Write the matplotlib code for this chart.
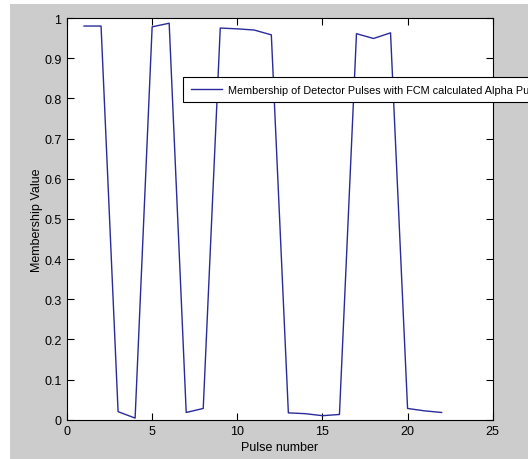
import matplotlib
matplotlib.use("Agg")
import matplotlib.pyplot as plt
from matplotlib.patches import Rectangle

plt.rcParams['font.family'] = ['Liberation Sans', 'DejaVu Sans']

# Pulse numbers and membership values
pulses = list(range(1, 23))
membership = [0.980, 0.980, 0.020, 0.004, 0.978, 0.987, 0.018, 0.028,
              0.975, 0.973, 0.970, 0.958, 0.017, 0.015, 0.010, 0.013,
              0.961, 0.949, 0.963, 0.028, 0.022, 0.018]
xticks = [0, 5, 10, 15, 20, 25]
yticks = [0, 0.1, 0.2, 0.3, 0.4, 0.5, 0.6, 0.7, 0.8, 0.9, 1]
yticklabels = ['0', '0.1', '0.2', '0.3', '0.4', '0.5', '0.6', '0.7', '0.8', '0.9', '1']

W, H = 528, 460
fig = plt.figure(figsize=(W / 100, H / 100), dpi=100, facecolor='white')
# grey MATLAB window background, with a thin white strip at top/left
fig.patches.append(Rectangle((10 / W, 0), 1 - 10 / W, 1 - 5 / H,
                             transform=fig.transFigure, facecolor='#cccccc',
                             edgecolor='none', zorder=-10))

ax = fig.add_axes([67 / W, 1 - 420.7 / H, 425.7 / W, 401.7 / H])
ax.set_facecolor('white')
ax.plot(pulses, membership, color='#2a2a9c', lw=1.0,
        label='Membership of Detector Pulses with FCM calculated Alpha Pulses')

ax.set_xlim(0, 25)
ax.set_ylim(0, 1)
ax.set_xticks(xticks)
ax.set_yticks(yticks)
ax.set_yticklabels(yticklabels)
ax.tick_params(direction='in', length=5, width=0.8, top=True, right=True,
               labelsize=9, pad=4, color='black')
for s in ax.spines.values():
    s.set_linewidth(0.8)

ax.set_xlabel('Pulse number', fontsize=9, labelpad=3)
ax.set_ylabel('Membership Value', fontsize=9, labelpad=1)

leg = ax.legend(loc='upper left', bbox_to_anchor=(0.2725, 0.853),
                prop={'size': 7.8}, fancybox=False, framealpha=1,
                edgecolor='black', handlelength=2.9, handletextpad=0.55,
                borderpad=0.7, borderaxespad=0)
leg.get_frame().set_linewidth(0.8)

fig.savefig('out.png', dpi=100, facecolor='white')
